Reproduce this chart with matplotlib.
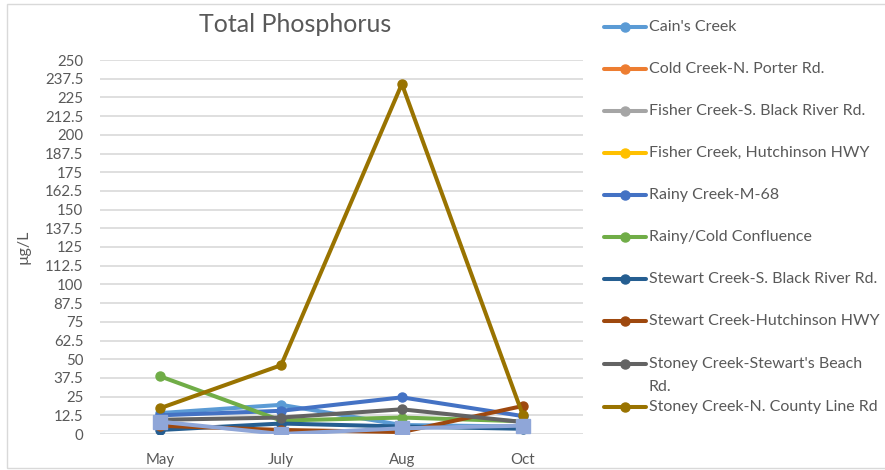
import matplotlib
matplotlib.use("Agg")
import matplotlib.pyplot as plt
from matplotlib.lines import Line2D
from matplotlib.patches import Rectangle
import numpy as np

plt.rcParams['font.family'] = ['Lato', 'DejaVu Sans']

months = ["May", "July", "Aug", "Oct"]
series_names = [
    "Cain's Creek",
    "Cold Creek-N. Porter Rd.",
    "Fisher Creek-S. Black River Rd.",
    "Fisher Creek, Hutchinson HWY",
    "Rainy Creek-M-68",
    "Rainy/Cold Confluence",
    "Stewart Creek-S. Black River Rd.",
    "Stewart Creek-Hutchinson HWY",
    "Stoney Creek-Stewart's Beach\nRd.",
    "Stoney Creek-N. County Line Rd",
    "",
]
cains = [14.0, 19.5, 6.0, 5.0]
cold_porter = [None, None, None, None]
fisher_black = [None, None, None, None]
fisher_hutch = [None, None, None, None]
rainy_m68 = [12.5, 15.5, 24.5, 12.0]
rainy_cold = [38.5, 9.0, 11.0, 8.5]
stewart_black = [2.7, 7.0, 5.0, 3.5]
stewart_hutch = [5.5, 2.7, 1.3, 18.7]
stoney_beach = [9.5, 11.0, 16.5, 8.0]
stoney_county = [17.3, 46.0, 234.0, 13.0]
unlabeled = [8.2, 0.0, 3.8, 5.6]

values = [cains, cold_porter, fisher_black, fisher_hutch, rainy_m68, rainy_cold,
          stewart_black, stewart_hutch, stoney_beach, stoney_county, unlabeled]
colors = ["#5B9BD5", "#ED7D31", "#A5A5A5", "#FFC000", "#4472C4", "#70AD47",
          "#255E91", "#9E480E", "#636363", "#997300", "#8FA6D8"]
yticks = [0, 12.5, 25, 37.5, 50, 62.5, 75, 87.5, 100, 112.5, 125, 137.5, 150,
          162.5, 175, 187.5, 200, 212.5, 225, 237.5, 250]

W, H = 885, 470
LW = 2.9
fig = plt.figure(figsize=(W / 100, H / 100), dpi=100)
fig.add_artist(Rectangle((7 / W, 1 - 468 / H), (W + 10) / W, (468 - 4) / H,
                         transform=fig.transFigure, fill=False,
                         edgecolor="#D9D9D9", linewidth=1))

ax = fig.add_axes([100 / W, 1 - 434 / H, 483 / W, 374 / H])
x = np.arange(len(months))
for i, (vals, c) in enumerate(zip(values, colors)):
    v = np.array([np.nan if a is None else a for a in vals], dtype=float)
    if i == len(values) - 1:
        ax.plot(x, v, color=c, lw=LW, marker="s", markersize=10, zorder=3 + i,
                solid_capstyle="round")
    else:
        ax.plot(x, v, color=c, lw=LW, marker="o", markersize=6.5, zorder=3 + i,
                solid_capstyle="round")

ax.set_xlim(-0.5, 3.5)
ax.set_ylim(0, 250)
ax.set_yticks(yticks)
ax.set_yticklabels([("%g" % t) for t in yticks])
ax.set_xticks(x)
ax.set_xticklabels(months)
ax.grid(axis="y", color="#D9D9D9", linewidth=1.2)
ax.set_axisbelow(True)
for s in ax.spines.values():
    s.set_visible(False)
ax.tick_params(axis="both", length=0, colors="#595959", labelsize=10.8)
ax.tick_params(axis="y", pad=12)
ax.tick_params(axis="x", pad=14)
ax.set_ylabel("µg/L", color="#595959", fontsize=11.5)
ax.yaxis.set_label_coords(-(100 - 30) / 483, 0.5)

fig.text(295 / W, 1 - 25 / H, "Total Phosphorus", ha="center", va="center",
         fontsize=18, color="#595959")

# legend
leg_y = [27, 69, 111, 153, 195, 237, 279, 321, 364, 407]
for name, c, yy in zip(series_names[:10], colors[:10], leg_y):
    yf = 1 - yy / H
    fig.add_artist(Line2D([604 / W, 646 / W], [yf, yf], transform=fig.transFigure,
                          color=c, lw=LW, solid_capstyle="round"))
    fig.add_artist(Line2D([625 / W], [yf], transform=fig.transFigure,
                          color=c, marker="o", markersize=6.5, lw=0))
    lines = name.split("\n")
    for k, ln in enumerate(lines):
        fig.text(649 / W, yf - k * 23 / H, ln, ha="left", va="center",
                 fontsize=11.5, color="#595959")

fig.savefig("out.png", dpi=100)
